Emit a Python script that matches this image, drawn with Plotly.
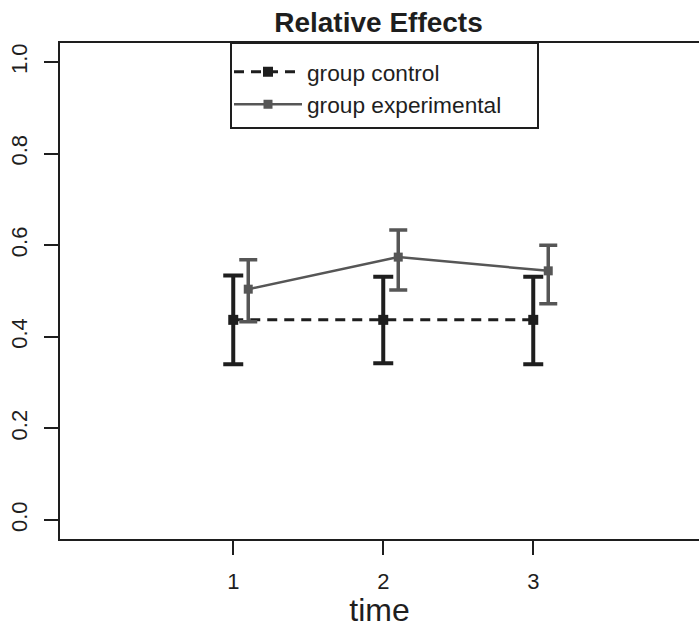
import plotly.graph_objects as go

# ---- data ----
time_points = [1, 2, 3]
group_names = ["group control", "group experimental"]
control_mean = [0.437, 0.437, 0.437]
control_upper = [0.534, 0.531, 0.531]
control_lower = [0.340, 0.342, 0.340]
exp_mean = [0.504, 0.574, 0.544]
exp_upper = [0.568, 0.633, 0.600]
exp_lower = [0.433, 0.502, 0.472]
exp_offset = 0.1
x_tick_vals = [1, 2, 3]
y_tick_vals = [0.0, 0.2, 0.4, 0.6, 0.8, 1.0]
y_tick_text = ["0.0", "0.2", "0.4", "0.6", "0.8", "1.0"]

FONT = "Liberation Sans, Arial, sans-serif"
INK = "#1e1e1e"
GRAY = "#565656"

fig = go.Figure()

fig.add_trace(go.Scatter(
    x=time_points, y=control_mean, name=group_names[0], mode="lines+markers",
    line=dict(color=INK, width=3, dash="10px,7px"),
    marker=dict(symbol="square", size=10, color=INK),
    error_y=dict(type="data", symmetric=False,
                 array=[u - m for u, m in zip(control_upper, control_mean)],
                 arrayminus=[m - l for l, m in zip(control_lower, control_mean)],
                 color=INK, thickness=4, width=10),
))

fig.add_trace(go.Scatter(
    x=[t + exp_offset for t in time_points], y=exp_mean, name=group_names[1], mode="lines+markers",
    line=dict(color=GRAY, width=2.5),
    marker=dict(symbol="square", size=9, color=GRAY),
    error_y=dict(type="data", symmetric=False,
                 array=[u - m for u, m in zip(exp_upper, exp_mean)],
                 arrayminus=[m - l for l, m in zip(exp_lower, exp_mean)],
                 color=GRAY, thickness=3.5, width=9),
))

W, H = 699, 628
L, T, B = 60, 43, 89

fig.update_layout(
    width=W, height=H,
    margin=dict(l=L, r=0, t=T, b=B, pad=0),
    paper_bgcolor="white", plot_bgcolor="white",
    font=dict(family=FONT, color=INK, size=22),
    showlegend=True,
    legend=dict(x=(229 - L) / (W - L), y=0.985, xanchor="left", yanchor="top",
                bgcolor="rgba(0,0,0,0)", borderwidth=0,
                font=dict(size=22.7, family=FONT, color=INK),
                itemwidth=68, tracegroupgap=0),
    title=dict(text="<b>Relative Effects</b>", x=378.5 / W, xref="container", xanchor="center",
               y=1 - 22 / H, yref="container", yanchor="middle",
               font=dict(size=28, family=FONT, color=INK)),
    xaxis=dict(range=[-0.155, 4.105], tickvals=x_tick_vals, ticktext=[str(v) for v in x_tick_vals],
               showgrid=False, zeroline=False, showline=True, mirror=True, linecolor=INK, linewidth=2,
               ticks="outside", ticklen=14, tickwidth=2, tickcolor=INK,
               tickfont=dict(size=22, family=FONT, color=INK), ticklabelstandoff=8,
               title=dict(text="time", font=dict(size=32, family=FONT, color=INK), standoff=0)),
    yaxis=dict(range=[-0.0415, 1.0415], tickvals=y_tick_vals, ticktext=y_tick_text,
               showgrid=False, zeroline=False, showline=True, mirror=False, linecolor=INK, linewidth=2,
               ticks="outside", ticklen=14, tickwidth=2, tickcolor=INK, tickangle=-90,
               tickfont=dict(size=22, family=FONT, color=INK), ticklabelstandoff=8),
)

# legend box (R-style)
fig.add_shape(type="rect", xref="paper", yref="paper",
              x0=(231 - L) / (W - L), x1=(538 - L) / (W - L),
              y0=(H - B - 128) / (H - T - B), y1=1.0,
              line=dict(color=INK, width=2), fillcolor="rgba(0,0,0,0)", layer="above")

fig.write_html("out.html", config={"displayModeBar": False},
               post_script="document.body.style.margin='0';document.body.style.overflow='hidden';")
